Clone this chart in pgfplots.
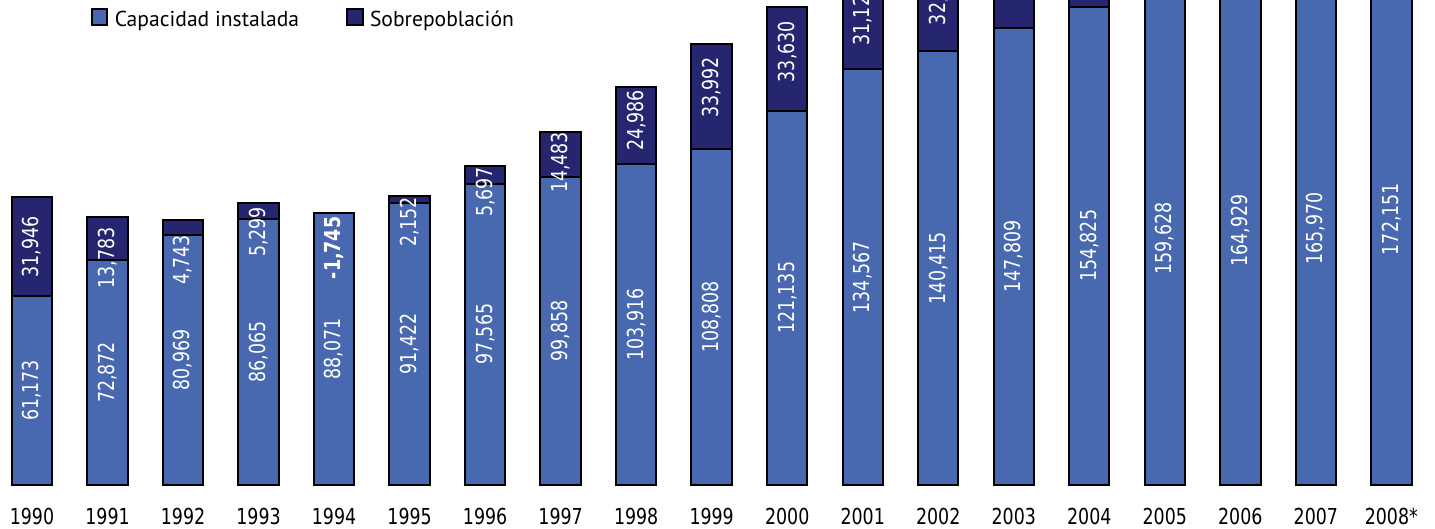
\documentclass[border=0pt]{standalone}
\usepackage{graphicx}
\usepackage{fontspec}
\usepackage{pgfplots}
\usepackage{pgfplotstable}
\pgfplotsset{compat=1.18}

\setmainfont{PT Sans}
\newfontfamily\numfont{DejaVu Sans Condensed}
\newfontfamily\legfont{PT Sans}

% slightly narrowed figures, as in the printed chart
\newcommand{\nar}[1]{\scalebox{0.88}[1]{#1}}

\definecolor{capc}{RGB}{72,104,176}
\definecolor{overc}{RGB}{38,38,112}

% i: position, cap: capacidad instalada, over: sobrepoblacion,
% opos: height at which the sobrepoblacion figure is written
\pgfplotstableread{
i  cap     over   opos
0  61173   31946  77048
1  72872   13783  73487
2  80969   4743   72839
3  86065   5299   81904
4  88071   -1745  76724
5  91422   2152   85141
6  97565   5697   94853
7  99858   14483  104403
8  103916  24986  118000
9  108808  33992  128682
10 121135  33630  140272
11 134567  31120  152056
12 140415  32473  158757
13 147809  34721  165170
14 154825  39064  174357
15 159628  46193  182725
16 164929  45211  187535
17 165970  46871  189406
18 172151  46876  195589
}\datatable

\pgfplotsset{
  barlabel/.style={
    draw=none, fill=none, forget plot, point meta=explicit,
    nodes near coords={\nar{\pgfmathprintnumber[fixed,precision=0,1000 sep={,},assume math mode=true]{\pgfplotspointmeta}}},
    nodes near coords align={center},
    every node near coord/.append style={rotate=90, text=white, inner sep=0pt, anchor=center,
      font=\numfont\fontsize{11}{13}\selectfont},
  },
}

\begin{document}
\begin{tikzpicture}
\begin{axis}[
  at={(0pt,22pt)}, anchor=south west,
  scale only axis, width=717.5pt, height=242.5pt,
  xmin=-0.4237, xmax=18.578, ymin=0, ymax=157000,
  clip=false,
  ybar, bar width=20.2pt, bar shift=0pt,
  axis line style={draw=none},
  ytick=\empty,
  xtick={0,...,18},
  xticklabels={\nar{1990},\nar{1991},\nar{1992},\nar{1993},\nar{1994},\nar{1995},\nar{1996},\nar{1997},\nar{1998},\nar{1999},\nar{2000},\nar{2001},\nar{2002},\nar{2003},\nar{2004},\nar{2005},\nar{2006},\nar{2007},\nar{2008*}},
  major tick length=0pt,
  xticklabel style={anchor=base, yshift=-20pt, text=black, font=\numfont\fontsize{11}{13}\selectfont},
  legend columns=2,
  legend cell align=left,
  legend style={at={(axis description cs:0.0634,0.9829)}, anchor=north west,
    draw=none, fill=none, inner sep=0pt, outer sep=0pt,
    font=\legfont\fontsize{10.8}{13}\selectfont,
    nodes={inner sep=0pt, text height=8pt, text depth=2pt},
    /tikz/every even column/.append style={column sep=23.5pt}},
  legend image code/.code={\draw[#1, line width=1pt] (0pt,-2.15pt) rectangle (7.7pt,5.85pt); \path (11.2pt,0pt);},
]
% sobrepoblacion sits on top of the capacity bar
\addplot[fill=overc, draw=black, line width=1pt, forget plot]
  table[x=i, y expr=\thisrow{cap}+\thisrow{over}] {\datatable};
\addplot[fill=capc, draw=black, line width=1pt, forget plot]
  table[x=i, y=cap] {\datatable};

% figures written inside the bars (the upper figures from 2003 on fall
% above the top of the frame)
\addplot[barlabel] table[x=i, y expr=\thisrow{cap}/2, meta=cap] {\datatable};
\addplot[barlabel, skip coords between index={4}{5}, restrict x to domain=-1:12.5]
  table[x=i, y=opos, meta=over] {\datatable};
\addplot[barlabel, restrict x to domain=3.5:4.5,
  every node near coord/.append style={font=\numfont\bfseries\fontsize{11}{13}\selectfont}]
  table[x=i, y=opos, meta=over] {\datatable};

\addlegendimage{fill=capc, draw=black}
\addlegendentry{Capacidad instalada}
\addlegendimage{fill=overc, draw=black}
\addlegendentry{Sobrepoblación}
\end{axis}
\pgfresetboundingbox
\useasboundingbox (0pt,0pt) rectangle (717.5pt,264.5pt);
\end{tikzpicture}
\end{document}
